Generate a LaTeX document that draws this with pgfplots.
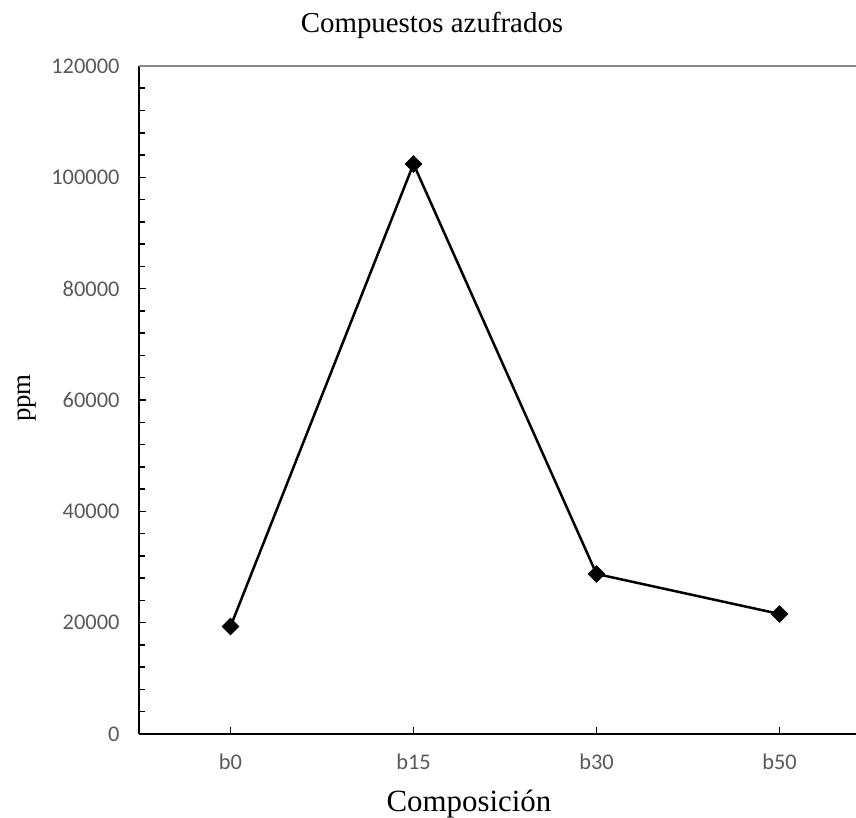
\documentclass[border=0pt]{standalone}
\usepackage{pgfplots}
\pgfplotsset{compat=1.18}
\usepackage{fontspec}
\setmainfont{Liberation Serif}
\newfontfamily\calibri{Carlito}
\definecolor{tickgray}{HTML}{595959}
\definecolor{topgray}{HTML}{898989}
\begin{document}
\begin{tikzpicture}[x=1bp,y=1bp]
\useasboundingbox (0,0) rectangle (856,818);
\begin{axis}[
  at={(139bp,84bp)}, anchor=south west,
  width=717bp, height=668bp, scale only axis,
  xmin=-0.5, xmax=3.418, ymin=0, ymax=120000,
  axis x line*=bottom, axis y line*=left,
  axis line style={line width=1.8bp, black, -},
  xtick={0,1,2,3}, xticklabels={b0,b15,b30,b50},
  ytick={0,20000,40000,60000,80000,100000,120000},
  yticklabels={0,20000,40000,60000,80000,100000,120000},
  minor y tick num=4,
  tick align=inside,
  major tick length=7bp, minor tick length=6bp,
  tick style={line width=1.5bp, black},
  scaled y ticks=false,
  ticklabel style={font=\calibri\fontsize{22.5}{27}\selectfont, text=tickgray},
  yticklabel style={xshift=-16bp},
  xticklabel style={yshift=-16bp},
  clip=false,
]
\addplot[black, line width=2.5bp, mark=square*, mark size=5bp,
  mark options={rotate=45, solid, fill=black}]
  coordinates {(0,19300) (1,102400) (2,28750) (3,21560)};
\draw[topgray, line width=1.8bp] (rel axis cs:0,1) -- (rel axis cs:1,1);
\end{axis}
\node[anchor=base, font=\fontsize{29}{34}\selectfont] at (432,785) {Compuestos azufrados};
\node[anchor=base, font=\fontsize{31}{36}\selectfont] at (469,6) {Composición};
\node[rotate=90, font=\fontsize{27}{32}\selectfont] at (27,420) {ppm};
\end{tikzpicture}
\end{document}
